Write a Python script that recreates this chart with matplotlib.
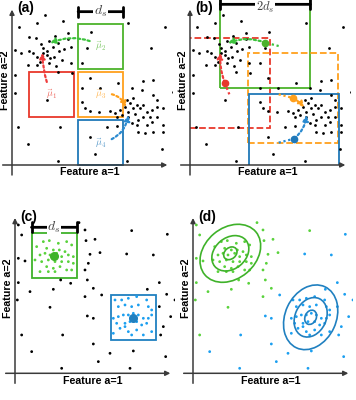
import numpy as np
import matplotlib
matplotlib.use('Agg')
import matplotlib.pyplot as plt
from matplotlib.patches import Rectangle, Ellipse

plt.rcParams['font.family'] = ['Liberation Sans', 'DejaVu Sans']
plt.rcParams['mathtext.fontset'] = 'cm'

# ---- data: panels (a) and (b) ----
ab_x = [99, 152, 74, 21, 349, 459, 236, 50, 71, 129, 169, 112, 139, 167, 86, 27, 9, 52, 62, 92,
        104, 124, 142, 156, 176, 226, 417, 74, 104, 126, 149, 176, 49, 74, 112, 132, 210,
        9, 139, 179, 234, 319, 394, 422, 9, 104, 209, 264, 359, 389, 422, 484, 434,
        219, 234, 262, 294, 309, 324, 339, 354, 374, 384, 404, 419, 454,
        314, 329, 349, 369, 394, 414, 434, 359, 374, 404, 419, 452,
        284, 316, 379, 399, 424, 19, 144, 234, 49, 449, 249, 139, 344,
        364, 344, 209, 454, 94, 114, 84, 364, 394, 349, 379, 434]
ab_y = [449, 433, 425, 415, 427, 415, 398, 385, 382, 387, 395, 373, 367, 377, 363, 337, 345, 343, 335, 350,
        343, 355, 343, 349, 353, 350, 352, 325, 330, 323, 315, 305, 300, 299, 307, 297, 307,
        270, 280, 277, 260, 245, 252, 255, 215, 195, 230, 230, 230, 225, 210, 218, 195,
        170, 162, 160, 162, 155, 165, 175, 185, 180, 170, 160, 165, 170,
        145, 150, 145, 152, 145, 145, 145, 125, 120, 120, 130, 120,
        115, 118, 100, 95, 100, 113, 113, 85, 63, 48, 32, 13, 12,
        200, 195, 190, 100, 335, 320, 310, 170, 180, 160, 135, 175]

ds = 135
# order: red (mu1), green (mu2), orange (mu3), blue (mu4)
cen_a_x = [118, 266, 266, 266]
cen_a_y = [212, 357, 212, 67]
new_x = [91, 114, 342, 349]
new_y = [337, 365, 173, 150]
rad_a = [-0.1, 0.25, -0.4, 0.35]
cen_b_x = [104, 226, 309, 313]
cen_b_y = [247, 367, 201, 79]
rad_b = [-0.1, 0.2, -0.1, 0.2]
styles_b = ['--', '-', '--', '-']
mu_labels = [r'$\vec{\mu}_1$', r'$\vec{\mu}_2$', r'$\vec{\mu}_3$', r'$\vec{\mu}_4$']
cols = ['#e8382b', '#4cb32b', '#ffa01c', '#2078b8']
arrow_cols = ['#f03c3c', '#3cc23c', '#ffa01c', '#2a8ad0']

# ---- data: panels (c) and (d) ----
cd_x = [10, 20, 10, 30, 10, 7, 45, 20, 50, 140, 105, 137, 167, 115, 192, 210, 213, 240, 225, 255,
        220, 210, 217, 235, 210, 260, 217, 235, 350, 457, 335, 415, 433, 397, 455, 480, 433, 467,
        445, 437, 285, 355, 235, 250, 345, 452, 143,
        65, 85, 103, 130, 155, 170, 95, 115, 133, 150, 75, 90, 105, 125, 140, 160, 175,
        60, 80, 100, 120, 140, 160, 175, 95, 115, 135, 155, 75, 100, 120, 170,
        300, 320, 340, 365, 395, 310, 330, 350, 370, 400, 410, 295, 310, 325, 340, 370, 385, 400, 410,
        305, 330, 345, 365, 380, 395, 315, 340, 365, 385, 410, 295, 350, 330, 355]
cd_y = [445, 415, 345, 337, 272, 220, 245, 115, 65, 15, 198, 280, 270, 252, 452, 430, 398, 402, 357, 362,
        330, 310, 280, 255, 230, 235, 172, 165, 428, 417, 358, 355, 272, 252, 237, 220, 200, 170,
        140, 115, 60, 67, 88, 35, 15, 50, 115,
        380, 395, 398, 390, 395, 385, 375, 370, 370, 365, 355, 360, 355, 360, 350, 355, 350,
        340, 335, 340, 335, 335, 335, 330, 320, 315, 320, 310, 305, 305, 305, 310,
        220, 220, 225, 230, 220, 200, 205, 200, 205, 200, 190, 165, 170, 175, 175, 175, 165, 165, 175,
        150, 150, 155, 155, 145, 150, 135, 125, 130, 115, 125, 120, 115, 140, 180]
cd_lab = list('g' * 8 + 'b' * 2 + 'g' * 15 + 'b' * 3 + 'g' + 'b' * 18) + ['g'] * 32 + ['b'] * 34
cen_c_x = [117, 354]
cen_c_y = [352, 166]
ell_x = [112, 353]
ell_y = [360, 168]
ell_w = [200, 202]
ell_h = [153, 153]
ell_ang = [40, 65]
ell_scale = [1.0, 0.61, 0.22]
light = {'g': '#5ad23c', 'b': '#1c9ff0'}
dark = {'g': '#3fb22a', 'b': '#2080c0'}

fig = plt.figure(figsize=(3.56, 4.0), dpi=100)
w, h = 171 / 356, 176 / 400
rects = [[1 / 356, 0.56, w, h], [179 / 356, 0.56, w, h],
         [4 / 356, 15.7 / 400, w, h], [182 / 356, 15.7 / 400, w, h]]
axs = [fig.add_axes(r) for r in rects]
dot = dict(arrowstyle='-|>', lw=1.6, linestyle=(0, (1, 1.2)), mutation_scale=8,
           shrinkA=2, shrinkB=0)

for ax, lab in zip(axs, ['(a)', '(b)', '(c)', '(d)']):
    ax.set_xlim(-33, 480)
    ax.set_ylim(-33, 495)
    ax.axis('off')
    ax.annotate('', xy=(466, 0), xytext=(-28, 0),
                arrowprops=dict(arrowstyle='-|>', color='#3a3a3a', lw=1.1, mutation_scale=7,
                                shrinkA=0, shrinkB=0))
    ax.annotate('', xy=(0, 466), xytext=(0, -30),
                arrowprops=dict(arrowstyle='-|>', color='#3a3a3a', lw=1.1, mutation_scale=7,
                                shrinkA=0, shrinkB=0))
    ax.text(234, -22, 'Feature a=1', fontsize=7.7, fontweight='bold', ha='center', va='center')
    ax.text(-21, 255, 'Feature a=2', fontsize=7.7, fontweight='bold', ha='center', va='center',
            rotation=90)
    ax.text(17, 470, lab, fontsize=10, fontweight='bold', ha='left', va='center')


def ds_bar(ax, x0, x1, y, label, fs=10, ty=None):
    ax.annotate('', xy=(x1, y), xytext=(x0, y), annotation_clip=False,
                arrowprops=dict(arrowstyle='|-|,widthA=0.35,widthB=0.35', lw=2, color='k',
                                shrinkA=0, shrinkB=0))
    ax.text((x0 + x1) / 2, y if ty is None else ty, label, fontsize=fs, ha='center',
            va='center', color='#444444', bbox=dict(fc='white', ec='none', pad=0.5))


# (a)
ax = axs[0]
ax.scatter(ab_x, ab_y, s=4, c='k', lw=0, zorder=3)
for i in range(4):
    ax.add_patch(Rectangle((cen_a_x[i] - ds / 2, cen_a_y[i] - ds / 2), ds, ds, fill=False,
                           ec=cols[i], lw=1.3, zorder=2))
    ax.annotate(mu_labels[i], xy=(new_x[i], new_y[i]), xytext=(cen_a_x[i], cen_a_y[i]),
                fontsize=7, color=cols[i], alpha=0.75, ha='center', va='center',
                arrowprops=dict(dot, color=arrow_cols[i], connectionstyle='arc3,rad=%s' % rad_a[i]),
                zorder=4)
ds_bar(ax, cen_a_x[1] - ds / 2, cen_a_x[1] + ds / 2, 460, r'$d_s$')

# (b)
ax = axs[1]
ax.scatter(ab_x, ab_y, s=4, c='k', lw=0, zorder=3)
clip = Rectangle((0, 0), 600, 600, transform=ax.transData)
for i in range(4):
    r = Rectangle((cen_b_x[i] - ds, cen_b_y[i] - ds), 2 * ds, 2 * ds, fill=False,
                  ec=cols[i], lw=1.3, ls=styles_b[i], zorder=2)
    ax.add_patch(r)
    r.set_clip_path(clip)
    ax.plot([cen_a_x[i], cen_b_x[i]], [cen_a_y[i], cen_b_y[i]], ls=(0, (1, 1.2)), lw=1.6,
            color=arrow_cols[i], zorder=4)
    ax.annotate('', xy=(new_x[i], new_y[i]), xytext=(cen_b_x[i], cen_b_y[i]),
                arrowprops=dict(dot, color=arrow_cols[i], shrinkA=0,
                                connectionstyle='arc3,rad=%s' % rad_b[i]), zorder=4)
    ax.plot(cen_b_x[i], cen_b_y[i], 'o', ms=4.5, color=cols[i], zorder=5)
ds_bar(ax, cen_b_x[1] - ds, cen_b_x[1] + ds, 482, r'$2d_s$', fs=9, ty=472)

# (c)
ax = axs[2]
inside = []
for x, y in zip(cd_x, cd_y):
    inside.append(any(abs(x - cx) <= ds / 2 and abs(y - cy) <= ds / 2
                      for cx, cy in zip(cen_c_x, cen_c_y)))
cc = [light[l] if ins else 'k' for l, ins in zip(cd_lab, inside)]
ax.scatter(cd_x, cd_y, s=4, c=cc, lw=0, zorder=3)
for i, k in enumerate(['g', 'b']):
    ax.add_patch(Rectangle((cen_c_x[i] - ds / 2, cen_c_y[i] - ds / 2), ds, ds, fill=False,
                           ec=dark[k], lw=1.3, zorder=2))
    ax.plot(cen_c_x[i], cen_c_y[i], 'o', ms=5.5, color=dark[k], zorder=5)
ds_bar(ax, cen_c_x[0] - ds / 2, cen_c_x[0] + ds / 2, 438, r'$d_s$')

# (d)
ax = axs[3]
ax.scatter(cd_x, cd_y, s=4, c=[light[l] for l in cd_lab], lw=0, zorder=3)
for i, k in enumerate(['g', 'b']):
    for sc in ell_scale:
        ax.add_patch(Ellipse((ell_x[i], ell_y[i]), ell_w[i] * sc, ell_h[i] * sc, angle=ell_ang[i],
                             fill=False, ec=dark[k], lw=1.2, zorder=4))

fig.savefig('out.png', dpi=100)
